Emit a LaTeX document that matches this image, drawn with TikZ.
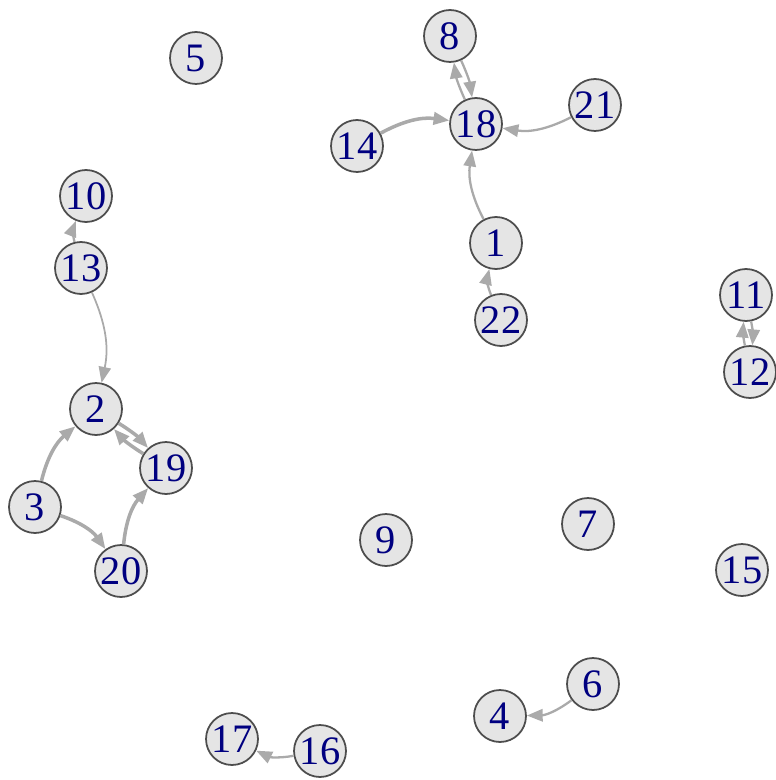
\documentclass[tikz,border=0pt]{standalone}
\usepackage{fontspec}
\setmainfont{Liberation Serif}
\usepackage{xcolor}
\usepackage{tikz}
\usetikzlibrary{arrows.meta}

\definecolor{vfill}{HTML}{E5E5E5}
\definecolor{vborder}{HTML}{4D4D4D}
\definecolor{vlabel}{HTML}{000080}
\definecolor{elink}{HTML}{AAAAAA}

\begin{document}
\begin{tikzpicture}[
    x=0.02cm, y=-0.02cm,
    vertex/.style={circle, draw=vborder, fill=vfill, line width=1pt, minimum size=1.04cm, inner sep=0pt, text=vlabel, font=\fontsize{23}{23}\selectfont},
    link/.style={draw=elink, line width=1.3pt, bend left=18, -{Triangle[length=9pt, width=7pt]}},
    heavy/.style={link, line width=2pt},
    mutual/.style={link, bend left=8}
]
    \useasboundingbox (0,0) rectangle (776,780);

    % Vertices
    \node[vertex] (v5) at (196,58) {5};
    \node[vertex] (v8) at (450,36) {8};
    \node[vertex] (v18) at (476,124) {18};
    \node[vertex] (v21) at (595,105) {21};
    \node[vertex] (v14) at (357,146) {14};
    \node[vertex] (v10) at (86,196) {10};
    \node[vertex] (v1) at (496,243) {1};
    \node[vertex] (v13) at (81,268) {13};
    \node[vertex] (v11) at (746,295) {11};
    \node[vertex] (v22) at (501,320) {22};
    \node[vertex] (v12) at (750,372) {12};
    \node[vertex] (v2) at (96,409) {2};
    \node[vertex] (v19) at (166,468) {19};
    \node[vertex] (v3) at (35,507) {3};
    \node[vertex] (v7) at (588,524) {7};
    \node[vertex] (v9) at (386,540) {9};
    \node[vertex] (v20) at (121,571) {20};
    \node[vertex] (v15) at (742,570) {15};
    \node[vertex] (v6) at (593,684) {6};
    \node[vertex] (v4) at (500,716) {4};
    \node[vertex] (v17) at (232,739) {17};
    \node[vertex] (v16) at (320,751) {16};

    % Edges
    \draw[mutual] (v8) to (v18);
    \draw[mutual] (v18) to (v8);
    \draw[heavy] (v14) to (v18);
    \draw[link] (v21) to (v18);
    \draw[link] (v1) to (v18);
    \draw[link] (v22) to (v1);
    \draw[link] (v13) to (v10);
    \draw[link, line width=1pt] (v13) to (v2);
    \draw[heavy] (v3) to (v2);
    \draw[heavy] (v3) to (v20);
    \draw[heavy] (v20) to (v19);
    \draw[mutual, line width=2pt] (v2) to (v19);
    \draw[mutual, line width=2pt] (v19) to (v2);
    \draw[mutual] (v11) to (v12);
    \draw[mutual] (v12) to (v11);
    \draw[link] (v16) to (v17);
    \draw[link] (v6) to (v4);
\end{tikzpicture}
\end{document}
